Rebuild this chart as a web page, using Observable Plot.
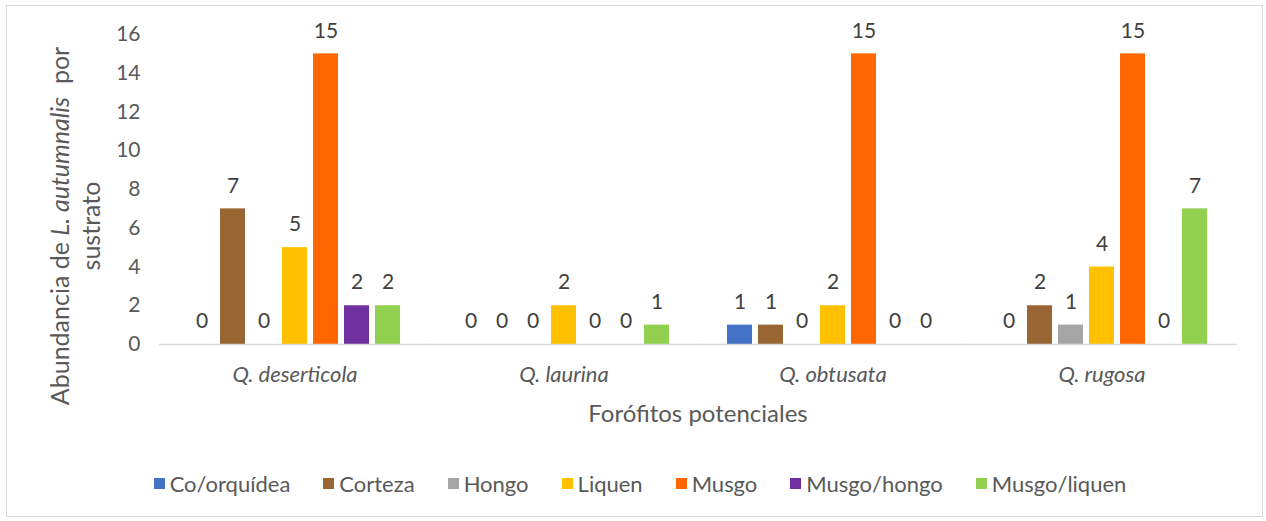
<!DOCTYPE html>
<html>
<head>
<meta charset="utf-8">
<script src="https://cdn.jsdelivr.net/npm/d3@7"></script>
<script src="https://cdn.jsdelivr.net/npm/@observablehq/plot@0.6"></script>
<style>
  html, body { margin: 0; padding: 0; background: #fff; }
  body { width: 1266px; height: 521px; position: relative; overflow: hidden; font-family: Lato, "Open Sans", sans-serif; }
  #frame { position: absolute; left: 6px; top: 5px; width: 1257px; height: 512px; border: 1px solid #d9d9d9; box-sizing: border-box; }
  #chart { position: absolute; left: 0; top: 0; }
  #legend { position: absolute; left: 7px; top: 470px; width: 1266px; display: flex; justify-content: center; gap: 33px; font-size: 22px; color: #595959; }
  #legend .item { display: flex; align-items: center; gap: 5px; }
  #legend .sw { width: 11px; height: 11px; display: inline-block; }
</style>
</head>
<body>
<div id="frame"></div>
<div id="chart"></div>
<div id="legend"></div>
<script>
// Data
const groups = ["Q. deserticola", "Q. laurina", "Q. obtusata", "Q. rugosa"];
const series = ["Co/orquídea", "Corteza", "Hongo", "Liquen", "Musgo", "Musgo/hongo", "Musgo/liquen"];
const colors = ["#4472C4", "#996633", "#A5A5A5", "#FFC000", "#FF6600", "#7030A0", "#92D050"];
const valuesDeserticola = [0, 7, 0, 5, 15, 2, 2];
const valuesLaurina     = [0, 0, 0, 2, 0, 0, 1];
const valuesObtusata    = [1, 1, 0, 2, 15, 0, 0];
const valuesRugosa      = [0, 2, 1, 4, 15, 0, 7];
const yTicks = [0, 2, 4, 6, 8, 10, 12, 14, 16];

const valueRows = [valuesDeserticola, valuesLaurina, valuesObtusata, valuesRugosa];
const data = [];
groups.forEach((g, gi) => series.forEach((s, si) => data.push({group: g, serie: s, value: valueRows[gi][si]})));

const font = "Lato, 'Open Sans', sans-serif";

const chart = Plot.plot({
  width: 1266,
  height: 440,
  marginLeft: 160,
  marginRight: 30,
  marginTop: 34,
  marginBottom: 96,
  style: {fontFamily: font, background: "transparent", overflow: "visible"},
  fx: {domain: groups, paddingInner: 0.18, paddingOuter: 0.09},
  x: {domain: series, paddingInner: 0.2, paddingOuter: 0.1, axis: null},
  y: {domain: [0, 16]},
  color: {domain: series, range: colors},
  marks: [
    Plot.axisY({ticks: yTicks, tickSize: 0, tickPadding: 44, fontSize: 21, fill: "#595959", label: null}),
    Plot.axisFx({anchor: "bottom", tickSize: 0, tickPadding: 22, fontSize: 22, fontStyle: "italic", fill: "#595959",
                 label: null}),
    Plot.barY(data, {fx: "group", x: "serie", y: "value", fill: "serie"}),
    Plot.ruleY([0], {stroke: "#d9d9d9", strokeWidth: 1.5, insetLeft: -25, insetRight: -25}),
    Plot.text(data, {fx: "group", x: "serie", y: "value", text: d => String(d.value), dy: -23,
                     fontSize: 21, fill: "#404040"})
  ]
});
document.getElementById("chart").appendChild(chart);

const svg = d3.select(chart);

// X axis title
svg.append("text")
  .attr("x", 698).attr("y", 422)
  .attr("text-anchor", "middle")
  .attr("fill", "#595959")
  .attr("font-size", 24)
  .attr("font-family", font)
  .text("Forófitos potenciales");

// Y axis title (two lines, with italic species name)
const yt = svg.append("text")
  .attr("transform", "translate(69,226) rotate(-90)")
  .attr("text-anchor", "middle")
  .attr("fill", "#595959")
  .attr("font-size", 25)
  .attr("font-family", font)
  .attr("xml:space", "preserve");
const l1 = yt.append("tspan").attr("x", 0).attr("y", 0);
l1.append("tspan").text("Abundancia de ");
l1.append("tspan").attr("font-style", "italic").text("L. autumnalis");
l1.append("tspan").text("  por");
yt.append("tspan").attr("x", 0).attr("y", 31).text("sustrato");

// Legend
const legend = d3.select("#legend");
series.forEach((s, i) => {
  const it = legend.append("div").attr("class", "item");
  it.append("span").attr("class", "sw").style("background", colors[i]);
  it.append("span").text(s);
});
</script>
</body>
</html>
